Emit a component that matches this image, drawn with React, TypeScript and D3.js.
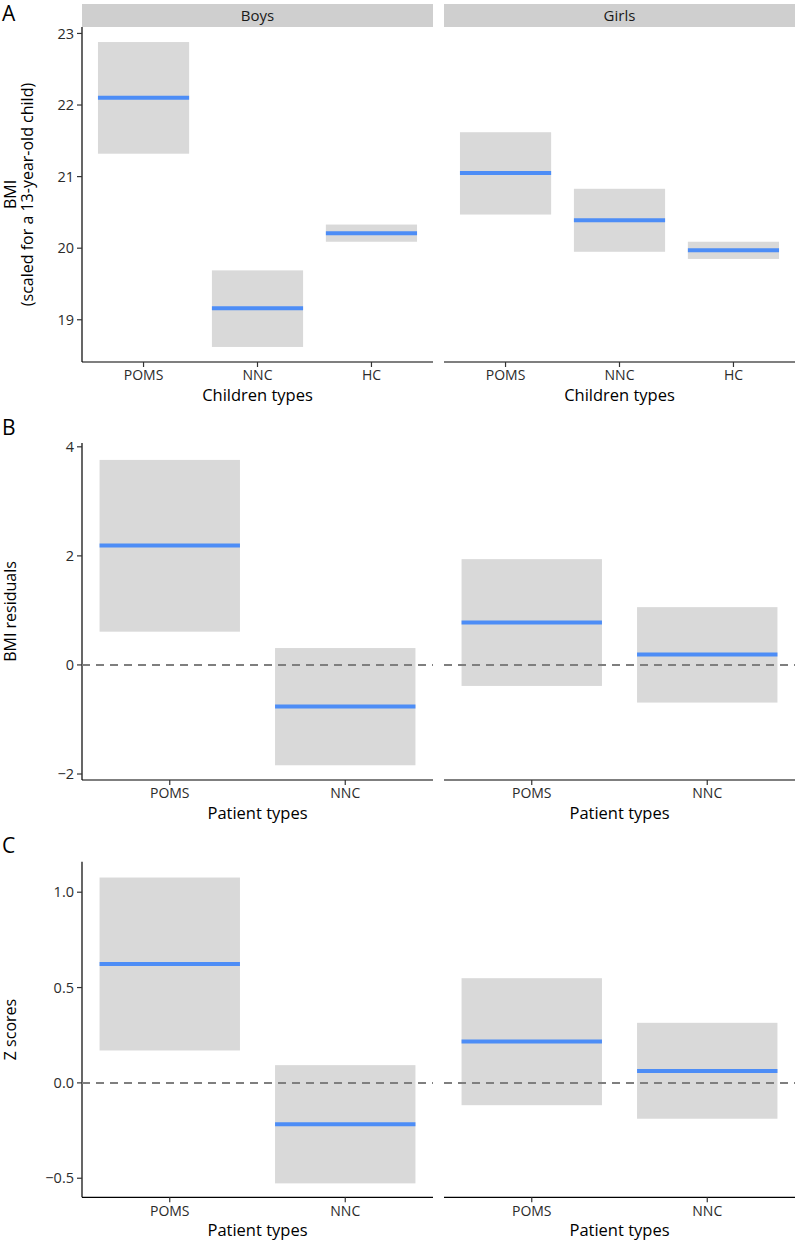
import React from 'react';
import * as d3 from 'd3';

// facets
const sexes = ['Boys', 'Girls'];
const childTypes = ['POMS', 'NNC', 'HC'];
const patientTypes = ['POMS', 'NNC'];

// A: BMI scaled for a 13-year-old child (estimate, lower, upper)
const bmiBoysMean = [22.10, 19.16, 20.21];
const bmiBoysLow = [21.32, 18.62, 20.09];
const bmiBoysHigh = [22.88, 19.69, 20.33];
const bmiGirlsMean = [21.05, 20.39, 19.97];
const bmiGirlsLow = [20.47, 19.95, 19.85];
const bmiGirlsHigh = [21.62, 20.83, 20.09];
const bmiTicks = [19, 20, 21, 22, 23];

// B: BMI residuals
const resBoysMean = [2.19, -0.76];
const resBoysLow = [0.61, -1.84];
const resBoysHigh = [3.76, 0.31];
const resGirlsMean = [0.78, 0.19];
const resGirlsLow = [-0.385, -0.69];
const resGirlsHigh = [1.94, 1.06];
const resTicks = [-2, 0, 2, 4];

// C: Z scores
const zBoysMean = [0.624, -0.217];
const zBoysLow = [0.17, -0.527];
const zBoysHigh = [1.077, 0.093];
const zGirlsMean = [0.217, 0.063];
const zGirlsLow = [-0.117, -0.188];
const zGirlsHigh = [0.549, 0.315];
const zTicks = [-0.5, 0, 0.5, 1.0];

const FONT = '"Open Sans", "Noto Sans", sans-serif';
const BOX = '#d9d9d9';
const BLUE = '#4d8df6';

const facetX = [[82, 433], [444, 795]];

type Row = { mean: number[]; low: number[]; high: number[] };

interface PanelProps {
  letter: string;
  letterY: number;
  top: number;
  bottom: number;
  domain: [number, number];
  ticks: number[];
  fmt: (v: number) => string;
  cats: string[];
  padding: number;
  rows: Row[];
  strips: boolean;
  zero: boolean;
  xTitle: string;
  yTitle: string[];
}

const Panel = (p: PanelProps) => {
  const y = d3.scaleLinear().domain(p.domain).range([p.bottom, p.top]);
  const midY = (p.top + p.bottom) / 2;
  return (
    <g>
      <text x={2} y={p.letterY} fontSize={21} fill="#000">{p.letter}</text>
      {p.yTitle.map((t, i) => (
        <text key={t} transform={`translate(${15.5 + i * 17.5},${midY}) rotate(-90)`}
          textAnchor="middle" fontSize={16} fill="#000">{t}</text>
      ))}
      {/* y axis on the first facet only */}
      <line x1={facetX[0][0]} x2={facetX[0][0]} y1={p.top} y2={p.bottom} stroke="#000" strokeWidth={1.2} />
      {p.ticks.map(t => (
        <g key={t} transform={`translate(${facetX[0][0]},${y(t)})`}>
          <line x1={-5} x2={0} stroke="#333" strokeWidth={1.2} />
          <text x={-8} dy="0.35em" textAnchor="end" fontSize={14.5} fill="#2b2b2b">{p.fmt(t)}</text>
        </g>
      ))}
      {facetX.map(([x0, x1], fi) => {
        const x = d3.scalePoint<string>().domain(p.cats).range([x0, x1]).padding(p.padding);
        const bw = x.step() * 0.8;
        const r = p.rows[fi];
        return (
          <g key={fi}>
            {p.strips && (
              <g>
                <rect x={x0} y={4} width={x1 - x0} height={23} fill="#cfcfcf" />
                <text x={(x0 + x1) / 2} y={15.5} dy="0.35em" textAnchor="middle" fontSize={15} fill="#1a1a1a">{sexes[fi]}</text>
              </g>
            )}
            {p.cats.map((c, i) => (
              <g key={c}>
                <rect x={x(c)! - bw / 2} width={bw} y={y(r.high[i])} height={y(r.low[i]) - y(r.high[i])} fill={BOX} />
              </g>
            ))}
            {p.zero && (
              <line x1={x0} x2={x1} y1={y(0)} y2={y(0)} stroke="#7f7f7f" strokeWidth={2} strokeDasharray="8,6" />
            )}
            {p.cats.map((c, i) => (
              <line key={c} x1={x(c)! - bw / 2} x2={x(c)! + bw / 2} y1={y(r.mean[i])} y2={y(r.mean[i])}
                stroke={BLUE} strokeWidth={4} />
            ))}
            <line x1={x0} x2={x1} y1={p.bottom} y2={p.bottom} stroke="#000" strokeWidth={1.2} />
            {p.cats.map(c => (
              <g key={c} transform={`translate(${x(c)},${p.bottom})`}>
                <line y1={0} y2={5} stroke="#333" strokeWidth={1.2} />
                <text y={13.5} dy="0.35em" textAnchor="middle" fontSize={14} fill="#2b2b2b">{c}</text>
              </g>
            ))}
            <text x={(x0 + x1) / 2} y={p.bottom + 39} textAnchor="middle" fontSize={16.5} fill="#000">{p.xTitle}</text>
          </g>
        );
      })}
    </g>
  );
};

const fmtInt = d3.format('d');
const fmt1 = d3.format('.1f');

export default function App() {
  return (
    <div style={{ position: 'absolute', left: 0, top: 0 }}>
      <svg width={797} height={1242} style={{ display: 'block', background: '#fff', fontFamily: FONT }}>
        <Panel letter="A" letterY={21} top={27} bottom={362} domain={[18.41, 23.09]} ticks={bmiTicks} fmt={fmtInt}
          cats={childTypes} padding={0.54}
          rows={[{ mean: bmiBoysMean, low: bmiBoysLow, high: bmiBoysHigh }, { mean: bmiGirlsMean, low: bmiGirlsLow, high: bmiGirlsHigh }]}
          strips zero={false} xTitle="Children types" yTitle={['BMI', '(scaled for a 13-year-old child)']} />
        <Panel letter="B" letterY={435} top={443} bottom={780} domain={[-2.11, 4.07]} ticks={resTicks} fmt={fmtInt}
          cats={patientTypes} padding={0.5}
          rows={[{ mean: resBoysMean, low: resBoysLow, high: resBoysHigh }, { mean: resGirlsMean, low: resGirlsLow, high: resGirlsHigh }]}
          strips={false} zero xTitle="Patient types" yTitle={['BMI residuals']} />
        <Panel letter="C" letterY={853} top={861.7} bottom={1197.3} domain={[-0.60, 1.16]} ticks={zTicks} fmt={fmt1}
          cats={patientTypes} padding={0.5}
          rows={[{ mean: zBoysMean, low: zBoysLow, high: zBoysHigh }, { mean: zGirlsMean, low: zGirlsLow, high: zGirlsHigh }]}
          strips={false} zero xTitle="Patient types" yTitle={['Z scores']} />
      </svg>
    </div>
  );
}
